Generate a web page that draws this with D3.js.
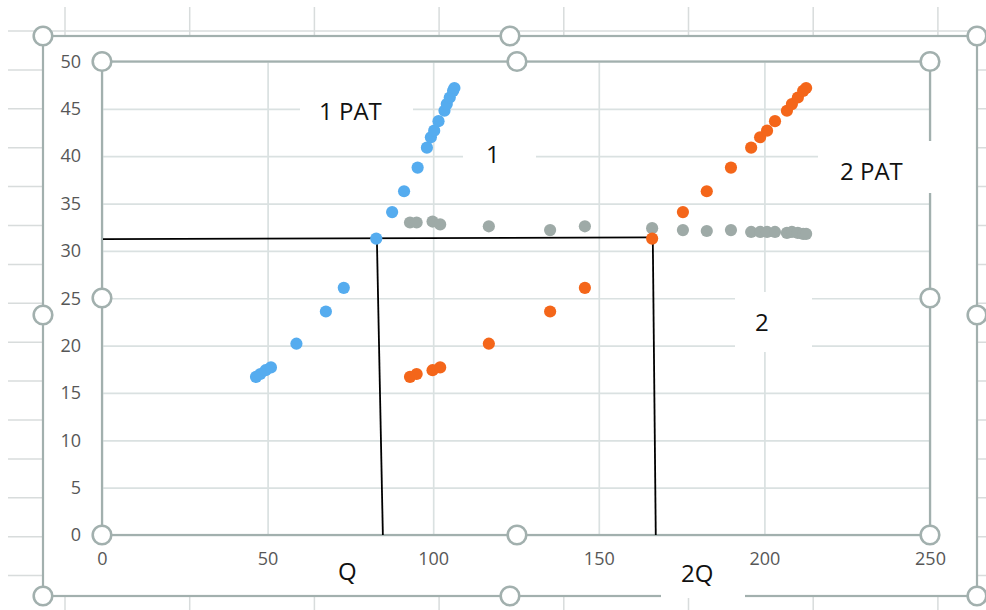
<!DOCTYPE html>
<html>
<head>
<meta charset="utf-8">
<script src="https://cdn.jsdelivr.net/npm/d3@7"></script>
<style>
  html, body { margin: 0; padding: 0; background: #ffffff; }
  svg { display: block; }
  text { font-family: "Open Sans", "Noto Sans", sans-serif; }
</style>
</head>
<body>
<svg id="chart" width="986" height="610"></svg>
<script>
// Price levels shared by both supply curves
const price = [16.7, 17.0, 17.4, 17.7, 20.2, 23.6, 26.1, 31.3, 34.1, 36.3, 38.8, 40.9, 42.0, 42.7, 43.7, 44.8, 45.5, 46.2, 46.9, 47.2];
// Quantity for one plant (series "1")
const qty1 = [46.5, 47.8, 49.4, 51.0, 58.7, 67.6, 73.0, 82.8, 87.6, 91.2, 95.3, 98.1, 99.3, 100.3, 101.6, 103.4, 104.1, 105.0, 106.0, 106.4];
// Quantity for two plants (series "2")
const qty2 = [93.0, 95.0, 99.8, 102.1, 116.8, 135.3, 145.8, 166.1, 175.4, 182.6, 189.9, 196.0, 198.7, 200.8, 203.2, 206.8, 208.3, 210.1, 211.7, 212.6];
// Third series plotted against the two-plant quantity
const flatPrice = [33.0, 33.0, 33.1, 32.8, 32.6, 32.2, 32.6, 32.4, 32.2, 32.1, 32.2, 32.0, 32.0, 32.0, 32.0, 31.9, 32.0, 31.9, 31.8, 31.8];

const xTicks = [0, 50, 100, 150, 200, 250];
const yTicks = [0, 5, 10, 15, 20, 25, 30, 35, 40, 45, 50];

// Hand-drawn guide lines (data units)
const priceLine = [[0.3, 31.25], [166.3, 31.42]];
const qLine = [[83.0, 31.2], [84.8, 0]];
const q2Line = [[166.3, 31.4], [167.2, 0]];

const svg = d3.select("#chart");
const W = 986, H = 610;

const frameColor = "#a2b0ae";
const sheetGrid = "#d8dcdc";

// ---- worksheet cells behind the chart object ----
const sheet = svg.append("g");
const colX = d3.range(0, 8).map(k => 65 + k * 124.7);
const rowY = d3.range(0, 15).map(k => 31 + k * 38.9);
sheet.selectAll("line.col").data(colX).join("line")
  .attr("x1", d => d).attr("x2", d => d).attr("y1", 7).attr("y2", H)
  .attr("stroke", sheetGrid).attr("stroke-width", 1.5);
sheet.selectAll("line.row").data(rowY).join("line")
  .attr("x1", 8).attr("x2", W).attr("y1", d => d).attr("y2", d => d)
  .attr("stroke", sheetGrid).attr("stroke-width", 1.5);

// ---- chart area ----
const outer = { x0: 43, y0: 36, x1: 977, y1: 596 };
svg.append("rect")
  .attr("x", outer.x0).attr("y", outer.y0)
  .attr("width", outer.x1 - outer.x0).attr("height", outer.y1 - outer.y0)
  .attr("fill", "#ffffff").attr("stroke", frameColor).attr("stroke-width", 2.2);

// ---- plot area ----
const plot = { x0: 102, y0: 61.5, x1: 930, y1: 535 };
const x = d3.scaleLinear().domain([0, 250]).range([plot.x0, plot.x1]);
const y = d3.scaleLinear().domain([0, 50]).range([plot.y1, plot.y0]);

const gridColor = "#dae1e1";
// vertical gridlines
svg.append("g")
  .attr("transform", `translate(0,${plot.y1})`)
  .call(d3.axisBottom(x).tickValues(xTicks).tickSize(-(plot.y1 - plot.y0)).tickFormat(""))
  .call(g => g.select(".domain").remove())
  .call(g => g.selectAll("line").attr("stroke", gridColor).attr("stroke-width", 1.7));
// horizontal gridlines
svg.append("g")
  .attr("transform", `translate(${plot.x0},0)`)
  .call(d3.axisLeft(y).tickValues(yTicks).tickSize(-(plot.x1 - plot.x0)).tickFormat(""))
  .call(g => g.select(".domain").remove())
  .call(g => g.selectAll("line").attr("stroke", gridColor).attr("stroke-width", 1.7));

// tick labels
const labelColor = "#575757";
svg.append("g")
  .attr("transform", `translate(${plot.x0 - 21},0)`)
  .call(d3.axisLeft(y).tickValues(yTicks).tickSize(0).tickPadding(0))
  .call(g => g.select(".domain").remove())
  .call(g => g.selectAll("text")
    .attr("fill", labelColor).attr("font-size", 18)
    .attr("font-family", "'Open Sans', sans-serif"));
svg.append("g")
  .attr("transform", `translate(0,${plot.y1 + 17})`)
  .call(d3.axisBottom(x).tickValues(xTicks).tickSize(0).tickPadding(0))
  .call(g => g.select(".domain").remove())
  .call(g => g.selectAll("text")
    .attr("fill", labelColor).attr("font-size", 18)
    .attr("font-family", "'Open Sans', sans-serif"));

// plot frame
svg.append("rect")
  .attr("x", plot.x0).attr("y", plot.y0)
  .attr("width", plot.x1 - plot.x0).attr("height", plot.y1 - plot.y0)
  .attr("fill", "none").attr("stroke", frameColor).attr("stroke-width", 2.2);

// ---- guide lines ----
const line = d3.line().x(d => x(d[0])).y(d => y(d[1]));
svg.append("g").selectAll("path")
  .data([priceLine, qLine, q2Line]).join("path")
  .attr("d", line).attr("fill", "none")
  .attr("stroke", "#000000").attr("stroke-width", 1.8);

// ---- series ----
const R = 6.1;
const flatPts = qty2.map((q, i) => [q, flatPrice[i]]);
const onePts = qty1.map((q, i) => [q, price[i]]);
const twoPts = qty2.map((q, i) => [q, price[i]]);

svg.append("g").selectAll("circle").data(flatPts).join("circle")
  .attr("cx", d => x(d[0])).attr("cy", d => y(d[1])).attr("r", R)
  .attr("fill", "#9eaaa7");
svg.append("g").selectAll("circle").data(onePts).join("circle")
  .attr("cx", d => x(d[0])).attr("cy", d => y(d[1])).attr("r", R)
  .attr("fill", "#55acef");
svg.append("g").selectAll("circle").data(twoPts).join("circle")
  .attr("cx", d => x(d[0])).attr("cy", d => y(d[1])).attr("r", R)
  .attr("fill", "#f4661a");

// ---- annotation text boxes ----
const notes = [
  { text: "1 PAT", tx: 319, ty: 120, box: [300, 88, 413, 133] },
  { text: "1", tx: 486, ty: 163, box: [463, 134, 536, 180] },
  { text: "2 PAT", tx: 840, ty: 180, box: [818, 141, 932, 193] },
  { text: "2", tx: 755, ty: 331, box: [735, 292, 812, 352] },
  { text: "Q", tx: 338, ty: 580, box: null },
  { text: "2Q", tx: 681, ty: 582, box: [661, 556, 745, 598] }
];
const ng = svg.append("g");
notes.filter(n => n.box).forEach(n => {
  ng.append("rect")
    .attr("x", n.box[0]).attr("y", n.box[1])
    .attr("width", n.box[2] - n.box[0]).attr("height", n.box[3] - n.box[1])
    .attr("fill", "#ffffff");
});
ng.selectAll("text").data(notes).join("text")
  .attr("x", d => d.tx).attr("y", d => d.ty)
  .attr("font-size", 24).attr("fill", "#111111")
  .text(d => d.text);

// ---- selection handles ----
const handles = [
  [outer.x0, outer.y0], [510, outer.y0], [outer.x1, outer.y0],
  [outer.x0, 315], [outer.x1, 315],
  [outer.x0, outer.y1], [510, outer.y1], [outer.x1, outer.y1],
  [plot.x0, plot.y0], [517, plot.y0], [plot.x1, plot.y0],
  [plot.x0, 298], [plot.x1, 298],
  [plot.x0, plot.y1], [517, plot.y1], [plot.x1, plot.y1]
];
svg.append("g").selectAll("circle").data(handles).join("circle")
  .attr("cx", d => d[0]).attr("cy", d => d[1]).attr("r", 9.3)
  .attr("fill", "#ffffff").attr("stroke", frameColor).attr("stroke-width", 2.6);
</script>
</body>
</html>
